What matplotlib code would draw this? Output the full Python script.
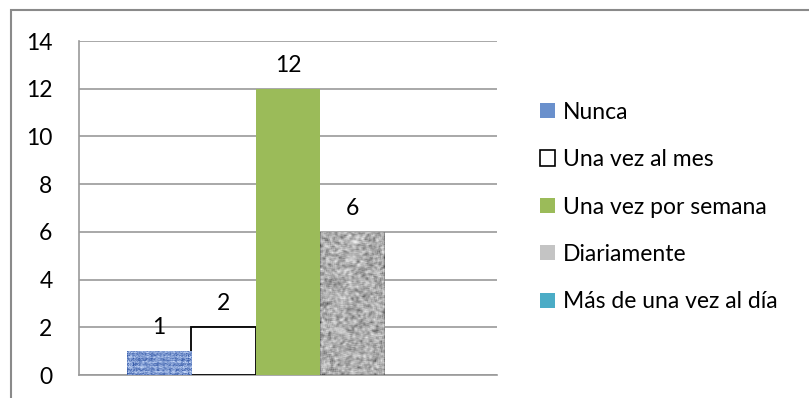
import numpy as np
import matplotlib
matplotlib.use("Agg")
import matplotlib.pyplot as plt
from matplotlib.patches import Patch, Rectangle

plt.rcParams['font.family'] = ['Lato', 'DejaVu Sans']

series = ["Nunca", "Una vez al mes", "Una vez por semana", "Diariamente", "Más de una vez al día"]
values = [1, 2, 12, 6, 0]
yticks = [0, 2, 4, 6, 8, 10, 12, 14]

fills = ["#5b86c8", "white", "#9bbb59", "#b4b4b4", "#4bacc6"]
edges = ["none", "black", "none", "none", "none"]

FS = 16.5
rng = np.random.default_rng(3)


def smooth(a, k):
    ker = np.ones(k) / k
    a = np.apply_along_axis(lambda r: np.convolve(r, ker, mode="same"), 0, a)
    a = np.apply_along_axis(lambda r: np.convolve(r, ker, mode="same"), 1, a)
    return a


def blue_texture(h, w):
    n = 0.55 * rng.random((h, w)) + 0.45 * smooth(rng.random((h, w)), 3)
    stripes = (np.arange(h)[:, None] % 5 < 2) * 0.2
    cols = (np.arange(w)[None, :] % 6 < 1) * -0.15
    n = np.clip(n + stripes + cols, 0, 1)
    lo = np.array([40, 78, 160]) / 255
    hi = np.array([195, 214, 248]) / 255
    return lo + (hi - lo) * n[..., None]


def granite_texture(h, w):
    n = smooth(rng.random((h, w)), 3)
    n = (n - n.min()) / (n.max() - n.min())
    n = n ** 0.75
    lo = np.array([70, 70, 70]) / 255
    hi = np.array([240, 240, 240]) / 255
    return lo + (hi - lo) * n[..., None]


fig = plt.figure(figsize=(8.09, 3.98), dpi=100)
ax = fig.add_axes([79 / 809, 1 - 375 / 398, (497 - 79) / 809, (375 - 41) / 398])

x = np.arange(len(series))
bars = ax.bar(x, values, width=1.0, color=fills, edgecolor=edges, linewidth=1.3, zorder=3)

textures = {0: blue_texture, 3: granite_texture}
for i, make in textures.items():
    b = bars[i]
    if values[i] <= 0:
        continue
    h_px = max(int(values[i] * 24), 6)
    img = make(h_px, 64)
    im = ax.imshow(img, extent=(b.get_x(), b.get_x() + b.get_width(), 0, values[i]),
                   aspect="auto", zorder=3.5, interpolation="bilinear")
    im.set_clip_path(b)

for i, v in enumerate(values):
    if v > 0:
        ax.annotate(str(v), (x[i], v), xytext=(0, 9.5), textcoords="offset points",
                    ha="center", va="bottom", fontsize=FS)

ax.set_xlim(-1.244, 5.244)
ax.set_ylim(0, 14)
ax.set_yticks(yticks)
ax.set_yticklabels([str(t) for t in yticks], fontsize=FS)
ax.set_xticks([])
ax.tick_params(axis="y", length=0, pad=19)
ax.yaxis.grid(True, color="#9a9a9a", linewidth=1.2, zorder=0)
ax.set_axisbelow(True)
for s in ["top", "right"]:
    ax.spines[s].set_visible(False)
for s in ["left", "bottom"]:
    ax.spines[s].set_color("#9a9a9a")
    ax.spines[s].set_linewidth(1.2)

handles = [
    Patch(facecolor="#6a90cc", edgecolor="none"),
    Patch(facecolor="white", edgecolor="black", linewidth=1.2),
    Patch(facecolor="#9bbb59", edgecolor="none"),
    Patch(facecolor="#c4c4c4", edgecolor="none"),
    Patch(facecolor="#4bacc6", edgecolor="none"),
]
fig.legend(handles, series, loc="center left", bbox_to_anchor=(540 / 809, 1 - 207 / 398),
           frameon=False, fontsize=FS, handlelength=0.65, handleheight=0.65,
           handletextpad=0.35, labelspacing=1.15, borderaxespad=0, borderpad=0)

fig.patches.append(Rectangle((10.5 / 809, -0.1), 2, (398 - 10.5) / 398 + 0.1,
                             transform=fig.transFigure, fill=False,
                             edgecolor="#8a8a8a", linewidth=1.5))

fig.savefig("out.png", dpi=100)
